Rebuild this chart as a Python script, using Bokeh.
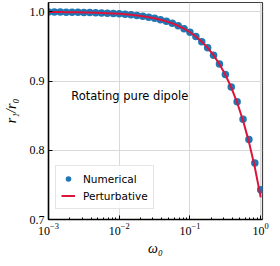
from bokeh.plotting import figure
from bokeh.models import Range1d, FixedTicker, LogTicker, Label, Legend, LegendItem, NumeralTickFormatter
from bokeh.embed import file_html
from bokeh.resources import INLINE

# data
omega = [0.001, 0.0012115, 0.0014678, 0.0017783, 0.0021544, 0.0026102, 0.0031623, 0.0038312,
         0.0046416, 0.0056234, 0.0068129, 0.008254, 0.01, 0.012115, 0.014678, 0.017783,
         0.021544, 0.026102, 0.031623, 0.038312, 0.046416, 0.056234, 0.068129, 0.08254,
         0.1, 0.12115, 0.14678, 0.17783, 0.21544, 0.26102, 0.31623, 0.38312, 0.46416,
         0.56234, 0.68129, 0.8254, 1.0]
r_numerical = [0.9997, 0.99964, 0.99956, 0.99947, 0.99935, 0.99922, 0.99905, 0.99885,
               0.99861, 0.99831, 0.99796, 0.99752, 0.997, 0.99637, 0.9956, 0.99468,
               0.99356, 0.9922, 0.99056, 0.98857, 0.98617, 0.98327, 0.97976, 0.97553,
               0.97043, 0.96429, 0.95689, 0.94801, 0.93736, 0.92462, 0.90943, 0.89138,
               0.87002, 0.8449, 0.81557, 0.78168, 0.743]
r_perturbative = [0.9997, 0.99964, 0.99956, 0.99947, 0.99935, 0.99922, 0.99905, 0.99885,
                  0.99861, 0.99831, 0.99796, 0.99752, 0.997, 0.99637, 0.9956, 0.99468,
                  0.99356, 0.9922, 0.99056, 0.98857, 0.98617, 0.98327, 0.97976, 0.97553,
                  0.97042, 0.96427, 0.95685, 0.94795, 0.93725, 0.92442, 0.90908, 0.89076,
                  0.86892, 0.84294, 0.81209, 0.77549, 0.732]
y_ticks = [0.7, 0.8, 0.9, 1.0]
x_ticks = [0.001, 0.01, 0.1, 1.0]
series_names = ["Numerical", "Perturbative"]
annotation = "Rotating pure dipole"

serif = "Liberation Serif"
sans = "DejaVu Sans"

p = figure(width=270, height=258, x_axis_type="log",
           x_range=Range1d(0.001, 1.06), y_range=Range1d(0.7, 1.0134),
           output_backend="svg", toolbar_location=None,
           min_border_left=48, min_border_right=8, min_border_top=2, min_border_bottom=37)

p.outline_line_color = "#404040"
p.outline_line_width = 1.2
p.background_fill_color = "white"
p.border_fill_color = "white"

# grid
p.xgrid.ticker = FixedTicker(ticks=x_ticks)
p.ygrid.ticker = FixedTicker(ticks=y_ticks)
for g in (p.xgrid, p.ygrid):
    g.grid_line_color = "#d9d9d9"
    g.grid_line_width = 1

# axes
p.xaxis.ticker = LogTicker(num_minor_ticks=10)
p.yaxis.ticker = FixedTicker(ticks=y_ticks)
p.yaxis.formatter = NumeralTickFormatter(format="0.0")
for ax in (p.xaxis[0], p.yaxis[0]):
    ax.axis_line_color = "black"
    ax.axis_line_width = 1.5
    ax.major_tick_in = 4
    ax.major_tick_out = 0
    ax.major_tick_line_color = "black"
    ax.major_tick_line_width = 1
    ax.major_label_text_font = serif
    ax.major_label_text_font_size = "12px"
    ax.major_label_text_color = "black"
    ax.axis_label_text_font = serif
    ax.axis_label_text_font_size = "14px"
    ax.axis_label_text_font_style = "italic"
    ax.axis_label_text_color = "black"
p.xaxis.minor_tick_in = 2
p.xaxis.minor_tick_out = 0
p.xaxis.minor_tick_line_color = "black"
p.yaxis.minor_tick_in = 0
p.yaxis.minor_tick_out = 0
p.xaxis.major_label_standoff = 3
p.yaxis.major_label_standoff = 4
p.xaxis.axis_label = "ω₀"
p.yaxis.axis_label = "r₁/r₀"
p.xaxis.axis_label_standoff = 3
p.yaxis.axis_label_standoff = 8

dots = p.scatter(omega, r_numerical, size=7.5, color="#1f77b4", line_color=None)
line = p.line(omega, r_perturbative, line_width=2, line_color="crimson")

p.add_layout(Label(x=0.0021, y=0.878, text=annotation, text_font=sans,
                   text_font_size="11.5px", text_baseline="middle", text_color="black"))

legend = Legend(items=[LegendItem(label=series_names[0], renderers=[dots]),
                       LegendItem(label=series_names[1], renderers=[line])],
                location=(7, 10))
legend.label_text_font = sans
legend.label_text_font_size = "10.5px"
legend.label_text_color = "black"
legend.border_line_color = "#cccccc"
legend.border_line_width = 1
legend.background_fill_alpha = 0.85
legend.glyph_width = 14
legend.glyph_height = 15
legend.label_height = 15
legend.label_standoff = 8
legend.spacing = 2
legend.padding = 5
legend.margin = 0
p.add_layout(legend, "center")

open("out.html", "w").write(file_html(p, INLINE))
